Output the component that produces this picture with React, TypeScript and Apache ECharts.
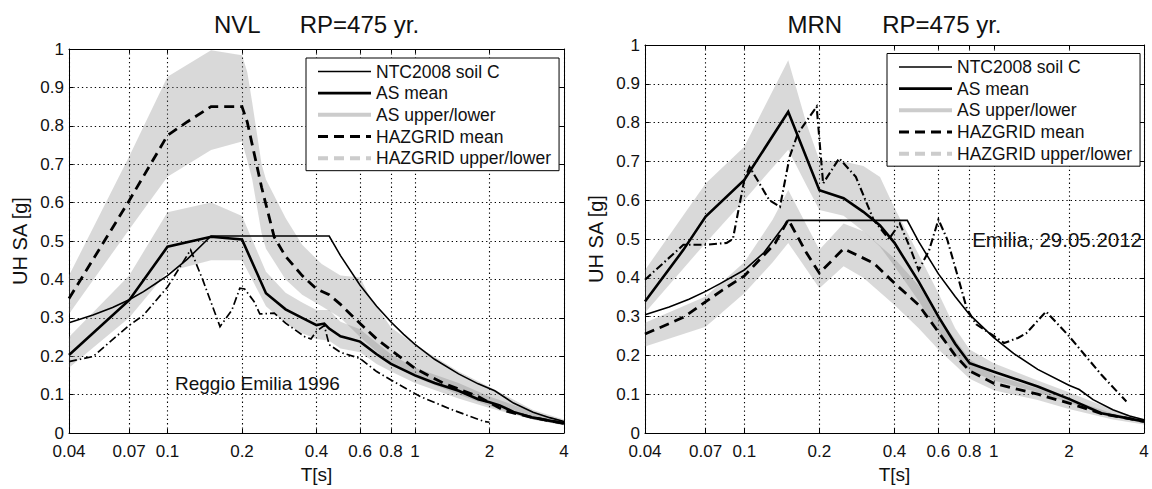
import React, { useEffect, useRef } from "react";
import * as echarts from "echarts";

// ---------- axis ticks ----------
const T_TICKS = [0.04, 0.07, 0.1, 0.2, 0.4, 0.6, 0.8, 1, 2, 4];
const T_TICK_LABELS = ["0.04", "0.07", "0.1", "0.2", "0.4", "0.6", "0.8", "1", "2", "4"];
const LEGEND_NAMES = ["NTC2008 soil C", "AS mean", "AS upper/lower", "HAZGRID mean", "HAZGRID upper/lower"];

// ---------- NVL (left) ----------
const nvlNtcT = [0.04, 0.05, 0.06, 0.07, 0.08, 0.09, 0.1, 0.12, 0.15, 0.45, 0.5, 0.6, 0.7, 0.8, 0.9, 1.0, 1.2, 1.5, 1.8, 2.1, 2.5, 3.0, 3.5, 4.0];
const nvlNtcSA = [0.287, 0.307, 0.327, 0.347, 0.368, 0.39, 0.41, 0.452, 0.513, 0.513, 0.462, 0.385, 0.33, 0.289, 0.257, 0.231, 0.192, 0.154, 0.128, 0.11, 0.078, 0.054, 0.04, 0.03];

const nvlAsT = [0.04, 0.07, 0.1, 0.15, 0.2, 0.25, 0.3, 0.35, 0.4, 0.43, 0.45, 0.5, 0.55, 0.6, 0.7, 0.8, 1.0, 1.2, 1.5, 1.8, 2.0, 2.2, 2.5, 3.0, 4.0];
const nvlAsSA = [0.203, 0.346, 0.485, 0.511, 0.504, 0.364, 0.322, 0.3, 0.281, 0.285, 0.272, 0.252, 0.245, 0.238, 0.205, 0.18, 0.15, 0.13, 0.11, 0.088, 0.08, 0.072, 0.055, 0.04, 0.025];

const nvlHzT = [0.04, 0.07, 0.1, 0.12, 0.15, 0.2, 0.21, 0.24, 0.27, 0.3, 0.35, 0.4, 0.45, 0.5, 0.6, 0.7, 0.8, 1.0, 1.3, 1.8, 2.3, 3.0, 4.0];
const nvlHzSA = [0.35, 0.605, 0.775, 0.81, 0.85, 0.85, 0.81, 0.64, 0.51, 0.46, 0.41, 0.375, 0.36, 0.335, 0.285, 0.245, 0.216, 0.168, 0.13, 0.095, 0.058, 0.04, 0.025];

const nvlRecT = [0.04, 0.05, 0.069, 0.08, 0.1, 0.124, 0.139, 0.163, 0.182, 0.196, 0.205, 0.224, 0.236, 0.27, 0.3, 0.36, 0.38, 0.4, 0.43, 0.45, 0.5, 0.6, 0.7, 0.8, 1.05, 1.42, 1.9, 2.0];
const nvlRecSA = [0.186, 0.199, 0.277, 0.307, 0.38, 0.477, 0.398, 0.277, 0.32, 0.377, 0.375, 0.342, 0.31, 0.312, 0.286, 0.25, 0.245, 0.265, 0.28, 0.23, 0.21, 0.194, 0.16, 0.138, 0.095, 0.06, 0.03, 0.028];

const nvlAsBandT = [0.04, 0.07, 0.1, 0.15, 0.2, 0.25, 0.3, 0.35, 0.4, 0.45, 0.5, 0.6, 0.7, 0.8, 1.0, 1.5, 2.0, 3.0, 4.0];
const nvlAsBandLo = [0.17, 0.3, 0.42, 0.45, 0.45, 0.33, 0.285, 0.26, 0.245, 0.24, 0.22, 0.21, 0.18, 0.16, 0.13, 0.09, 0.065, 0.035, 0.02];
const nvlAsBandHi = [0.25, 0.41, 0.575, 0.6, 0.565, 0.42, 0.365, 0.34, 0.32, 0.32, 0.29, 0.27, 0.235, 0.205, 0.17, 0.13, 0.095, 0.055, 0.032];

const nvlHzBandT = [0.04, 0.07, 0.1, 0.15, 0.2, 0.21, 0.22, 0.24, 0.25, 0.3, 0.35, 0.42, 0.5, 0.6, 0.65, 0.8, 1.0, 1.5, 2.0, 3.0, 4.0];
const nvlHzBandLo = [0.31, 0.53, 0.667, 0.737, 0.759, 0.71, 0.66, 0.52, 0.48, 0.4, 0.36, 0.33, 0.3, 0.25, 0.23, 0.18, 0.145, 0.1, 0.07, 0.035, 0.02];
const nvlHzBandHi = [0.41, 0.72, 0.928, 0.997, 0.984, 0.94, 0.86, 0.7, 0.66, 0.56, 0.49, 0.44, 0.41, 0.405, 0.36, 0.275, 0.23, 0.16, 0.12, 0.06, 0.035];

// ---------- MRN (right) ----------
const mrnNtcT = [0.04, 0.05, 0.06, 0.07, 0.08, 0.1, 0.12, 0.15, 0.45, 0.5, 0.6, 0.7, 0.8, 1.0, 1.2, 1.5, 2.0, 2.2, 2.5, 3.0, 3.5, 4.0];
const mrnNtcSA = [0.305, 0.325, 0.345, 0.365, 0.385, 0.42, 0.465, 0.548, 0.548, 0.493, 0.41, 0.352, 0.305, 0.246, 0.205, 0.164, 0.123, 0.112, 0.086, 0.06, 0.044, 0.034];

const mrnAsT = [0.04, 0.057, 0.07, 0.1, 0.15, 0.2, 0.25, 0.3, 0.35, 0.4, 0.5, 0.6, 0.7, 0.8, 1.0, 1.5, 2.0, 2.7, 4.0];
const mrnAsSA = [0.339, 0.472, 0.558, 0.652, 0.828, 0.626, 0.605, 0.57, 0.535, 0.49, 0.39, 0.3, 0.23, 0.18, 0.158, 0.12, 0.088, 0.051, 0.03];

const mrnHzT = [0.04, 0.057, 0.082, 0.1, 0.133, 0.15, 0.178, 0.2, 0.25, 0.33, 0.4, 0.5, 0.6, 0.7, 0.8, 1.0, 1.5, 2.0, 2.7, 4.0];
const mrnHzSA = [0.255, 0.298, 0.369, 0.405, 0.489, 0.55, 0.463, 0.412, 0.475, 0.438, 0.386, 0.33, 0.26, 0.2, 0.16, 0.128, 0.1, 0.077, 0.05, 0.03];

const mrnRecT = [0.04, 0.057, 0.07, 0.085, 0.09, 0.1, 0.105, 0.126, 0.139, 0.152, 0.164, 0.195, 0.207, 0.24, 0.28, 0.33, 0.38, 0.42, 0.46, 0.5, 0.55, 0.6, 0.65, 0.72, 0.78, 0.85, 1.0, 1.1, 1.25, 1.35, 1.62, 2.0, 2.7, 3.4];
const mrnRecSA = [0.395, 0.485, 0.485, 0.49, 0.5, 0.652, 0.686, 0.6, 0.583, 0.712, 0.772, 0.841, 0.643, 0.708, 0.66, 0.549, 0.5, 0.54, 0.48, 0.42, 0.47, 0.55, 0.5, 0.4, 0.32, 0.28, 0.25, 0.232, 0.245, 0.257, 0.313, 0.25, 0.15, 0.081];

const mrnAsBandT = [0.04, 0.07, 0.1, 0.15, 0.177, 0.2, 0.25, 0.3, 0.35, 0.4, 0.5, 0.6, 0.7, 0.8, 1.0, 1.5, 2.0, 3.0, 4.0];
const mrnAsBandLo = [0.31, 0.49, 0.6, 0.73, 0.64, 0.575, 0.56, 0.52, 0.48, 0.43, 0.34, 0.26, 0.2, 0.16, 0.135, 0.105, 0.078, 0.042, 0.025];
const mrnAsBandHi = [0.42, 0.643, 0.738, 0.961, 0.8, 0.703, 0.7, 0.688, 0.66, 0.58, 0.46, 0.36, 0.27, 0.215, 0.18, 0.135, 0.105, 0.06, 0.035];

const mrnHzBandT = [0.04, 0.07, 0.1, 0.13, 0.15, 0.2, 0.25, 0.3, 0.4, 0.5, 0.6, 0.8, 1.0, 1.5, 2.0, 3.0, 4.0];
const mrnHzBandLo = [0.223, 0.274, 0.36, 0.44, 0.49, 0.373, 0.43, 0.4, 0.33, 0.27, 0.215, 0.14, 0.11, 0.085, 0.062, 0.035, 0.022];
const mrnHzBandHi = [0.284, 0.352, 0.44, 0.55, 0.626, 0.472, 0.54, 0.52, 0.45, 0.38, 0.3, 0.19, 0.15, 0.115, 0.088, 0.05, 0.032];

// ---------- helpers ----------
const FONT = "'Liberation Sans', Arial, Helvetica, sans-serif";
const lg = (t: number) => Math.log10(t);
const pts = (T: number[], v: number[]) => T.map((t, i) => [lg(t), v[i]]);
const tickLabel = (v: number) => {
  const i = T_TICKS.findIndex((t) => Math.abs(lg(t) - v) < 1e-6);
  return i >= 0 ? T_TICK_LABELS[i] : "";
};

const GRIDS = [
  { left: 69, top: 49, width: 495, height: 384 },
  { left: 645, top: 45, width: 499, height: 388 },
];

function xAxes(g: number) {
  const ticks = T_TICKS.map(lg);
  const common = {
    type: "value",
    gridIndex: g,
    min: lg(0.04),
    max: lg(4),
  };
  return [
    {
      ...common,
      position: "bottom",
      axisLine: { show: true, onZero: false, lineStyle: { color: "#000", width: 1 } },
      axisTick: { show: true, inside: true, length: 4, customValues: ticks, lineStyle: { color: "#000" } },
      axisLabel: {
        show: true,
        customValues: ticks,
        formatter: tickLabel,
        color: "#111",
        fontSize: 17,
        lineHeight: 17,
        fontFamily: FONT,
        margin: 10,
        showMinLabel: true,
        showMaxLabel: true,
      },
      splitLine: { show: true, lineStyle: { color: "#000", width: 1.1, type: [1.3, 3] } },
      name: "T[s]",
      nameLocation: "middle",
      nameGap: 30,
      nameTextStyle: { color: "#111", fontSize: 19, fontFamily: FONT },
    },
    {
      ...common,
      position: "top",
      axisLine: { show: true, onZero: false, lineStyle: { color: "#000", width: 1 } },
      axisTick: { show: true, inside: true, length: 4, customValues: ticks, lineStyle: { color: "#000" } },
      axisLabel: { show: false },
      splitLine: { show: false },
    },
  ];
}

function yAxes(g: number) {
  const common = { type: "value", gridIndex: g, min: 0, max: 1, interval: 0.1 };
  return [
    {
      ...common,
      position: "left",
      axisLine: { show: true, onZero: false, lineStyle: { color: "#000", width: 1 } },
      axisTick: { show: true, inside: true, length: 4, lineStyle: { color: "#000" } },
      axisLabel: { color: "#111", fontSize: 17, lineHeight: 13, fontFamily: FONT, margin: 5 },
      splitLine: { show: true, lineStyle: { color: "#000", width: 1.1, type: [1.3, 3] } },
      name: "UH SA [g]",
      nameLocation: "middle",
      nameRotate: 90,
      nameGap: 39,
      nameTextStyle: { color: "#111", fontSize: 20, fontFamily: FONT },
    },
    {
      ...common,
      position: "right",
      axisLine: { show: true, onZero: false, lineStyle: { color: "#000", width: 1 } },
      axisTick: { show: true, inside: true, length: 4, lineStyle: { color: "#000" } },
      axisLabel: { show: false },
      splitLine: { show: false },
    },
  ];
}

function band(name: string, T: number[], lo: number[], hi: number[], ax: number) {
  const data = T.map((t, i) => [lg(t), lo[i], hi[i]]);
  return {
    type: "custom",
    name,
    xAxisIndex: ax,
    yAxisIndex: ax,
    data,
    silent: true,
    z: 1,
    clip: true,
    encode: { x: 0, y: [1, 2] },
    renderItem: (params: any, api: any) => {
      if (params.dataIndex !== 0) return null;
      const up = data.map((d) => api.coord([d[0], d[2]]));
      const dn = data.map((d) => api.coord([d[0], d[1]])).reverse();
      return {
        type: "polygon",
        shape: { points: up.concat(dn) },
        style: { fill: "rgba(128,128,128,0.3)", stroke: "none" },
      };
    },
  };
}

function line(name: string, T: number[], v: number[], ax: number, style: any) {
  return {
    type: "line",
    name,
    xAxisIndex: ax,
    yAxisIndex: ax,
    data: pts(T, v),
    symbol: "none",
    showSymbol: false,
    silent: true,
    z: 3,
    itemStyle: { color: "#000", opacity: 0 },
    lineStyle: { color: "#000", cap: "butt", join: "miter", ...style },
  };
}

const NTC_STYLE = { width: 1.6 };
const AS_STYLE = { width: 2.6 };
const HZ_STYLE = { width: 2.8, type: [10, 6] };
const REC_STYLE = { width: 1.7, type: [8, 3, 1.5, 3] };

function legend(left: number, top: number) {
  return {
    data: LEGEND_NAMES,
    orient: "vertical",
    left,
    top,
    itemWidth: 53,
    itemHeight: 14,
    itemGap: 3.67,
    padding: [4.5, 8, 3.5, 10],
    borderColor: "#000",
    borderWidth: 1,
    backgroundColor: "#fff",
    selectedMode: false,
    itemStyle: { opacity: 0, borderWidth: 0 },
    lineStyle: { width: "inherit" },
    textStyle: { color: "#111", fontSize: 17.5, lineHeight: 18, fontFamily: FONT },
  };
}

export default function App() {
  const ref = useRef<HTMLDivElement>(null);
  useEffect(() => {
    document.body.style.margin = "0";
    if (!ref.current) return;
    const chart = echarts.init(ref.current, undefined, { renderer: "svg" });
    const option: any = {
      animation: false,
      backgroundColor: "#fff",
      grid: GRIDS.map((g) => ({ ...g, containLabel: false, show: false })),
      xAxis: [...xAxes(0), ...xAxes(1)],
      yAxis: [...yAxes(0), ...yAxes(1)],
      legend: [legend(306, 58), legend(887, 53.5)],
      series: [
        // NVL
        band("NVL AS band", nvlAsBandT, nvlAsBandLo, nvlAsBandHi, 0),
        band("NVL HAZGRID band", nvlHzBandT, nvlHzBandLo, nvlHzBandHi, 0),
        line("NTC2008 soil C", nvlNtcT, nvlNtcSA, 0, NTC_STYLE),
        line("AS mean", nvlAsT, nvlAsSA, 0, AS_STYLE),
        line("HAZGRID mean", nvlHzT, nvlHzSA, 0, HZ_STYLE),
        line("Reggio Emilia 1996", nvlRecT, nvlRecSA, 0, REC_STYLE),
        {
          type: "line",
          name: "AS upper/lower",
          xAxisIndex: 0,
          yAxisIndex: 0,
          data: [],
          symbol: "none",
          itemStyle: { opacity: 0 },
          lineStyle: { color: "#cccccc", width: 4 },
        },
        {
          type: "line",
          name: "HAZGRID upper/lower",
          xAxisIndex: 0,
          yAxisIndex: 0,
          data: [],
          symbol: "none",
          itemStyle: { opacity: 0 },
          lineStyle: { color: "#cccccc", width: 4, type: [10, 6] },
        },
        // MRN
        band("MRN AS band", mrnAsBandT, mrnAsBandLo, mrnAsBandHi, 2),
        band("MRN HAZGRID band", mrnHzBandT, mrnHzBandLo, mrnHzBandHi, 2),
        line("NTC2008 soil C", mrnNtcT, mrnNtcSA, 2, NTC_STYLE),
        line("AS mean", mrnAsT, mrnAsSA, 2, AS_STYLE),
        line("HAZGRID mean", mrnHzT, mrnHzSA, 2, HZ_STYLE),
        line("Emilia, 29.05.2012", mrnRecT, mrnRecSA, 2, { width: 2.1, type: [8, 3, 1.5, 3] }),
      ],
      graphic: [
        {
          type: "text",
          x: 316.5,
          y: 24,
          style: { text: "NVL      RP=475 yr.", align: "center", verticalAlign: "middle", fontSize: 24, fontFamily: FONT, fill: "#111" },
        },
        {
          type: "text",
          x: 894.5,
          y: 24,
          style: { text: "MRN      RP=475 yr.", align: "center", verticalAlign: "middle", fontSize: 24, fontFamily: FONT, fill: "#111" },
        },
        {
          type: "text",
          x: 175,
          y: 383,
          z: 10,
          style: { text: "Reggio Emilia 1996", align: "left", verticalAlign: "middle", fontSize: 19, fontFamily: FONT, fill: "#111" },
        },
        {
          type: "text",
          x: 1142,
          y: 239,
          z: 10,
          style: { text: "Emilia, 29.05.2012", align: "right", verticalAlign: "middle", fontSize: 20.5, fontFamily: FONT, fill: "#111" },
        },
      ],
    };
    chart.setOption(option);
    return () => chart.dispose();
  }, []);
  return <div ref={ref} style={{ width: 1152, height: 489 }} />;
}
